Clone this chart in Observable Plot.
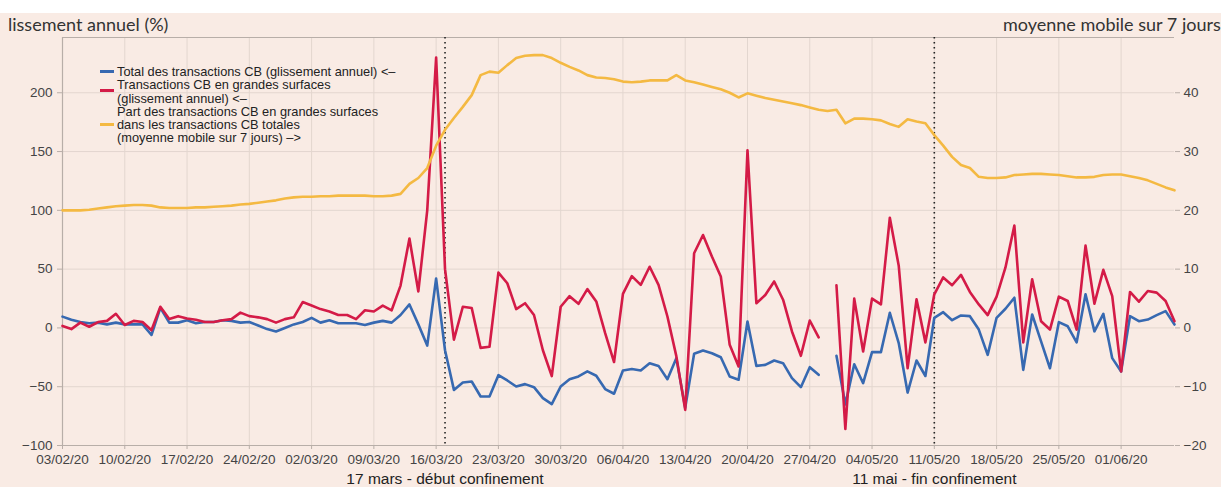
<!DOCTYPE html>
<html>
<head>
<meta charset="utf-8">
<script src="https://cdn.jsdelivr.net/npm/d3@7"></script>
<script src="https://cdn.jsdelivr.net/npm/@observablehq/plot@0.6"></script>
<style>
  html, body { margin: 0; padding: 0; background: #ffffff; }
  #wrap { position: relative; width: 1221px; height: 474px; margin-top: 13px; background: #f9ebe4; overflow: hidden; }
  #chart { position: absolute; left: 0; top: 0; }
  .hdr { position: absolute; font-family: Lato, "Noto Sans", sans-serif; font-size: 18px; color: #333; white-space: nowrap; line-height: 20px; }
  #legend { position: absolute; left: 117px; top: 52px; font-family: "Liberation Sans", Arial, sans-serif; font-size: 12.8px; line-height: 13.3px; color: #222; white-space: nowrap; }
  .sw { position: absolute; left: 100px; width: 14px; height: 3px; }
</style>
</head>
<body>
<div id="wrap">
  <div class="hdr" style="left:8px; top:1px;">lissement annuel (%)</div>
  <div class="hdr" style="left:1003px; top:1px;">moyenne mobile sur 7 jours</div>
  <div id="chart"></div>
  <div class="sw" style="top:57px; background:#3769b1;"></div>
  <div class="sw" style="top:76px; background:#d41b47;"></div>
  <div class="sw" style="top:110px; background:#f4b942;"></div>
  <div id="legend">
    <div>Total des transactions CB (glissement annuel) &lt;–</div>
    <div>Transactions CB en grandes surfaces</div>
    <div>(glissement annuel) &lt;–</div>
    <div>Part des transactions CB en grandes surfaces</div>
    <div>dans les transactions CB totales</div>
    <div>(moyenne mobile sur 7 jours) –&gt;</div>
  </div>
</div>
<script>
// ---- data (daily, 03/02/2020 -> 07/06/2020) ----
const firstDay = "2020-02-03";
const lastDay = "2020-06-07";

// Total des transactions CB, glissement annuel (%)
const totalCB = [
  9.6, 7, 5, 4, 4.5, 3, 4.5, 3, 3, 3,
  -6, 17, 4.5, 4.5, 6.5, 4, 5, 5, 6.5, 6,
  4.5, 5, 2, -1, -3, 0, 3, 5, 8.5, 4.5,
  6.5, 4, 4, 4, 2.5, 4.5, 6, 4.5, 11, 20,
  3, -15, 42, -19, -52.7, -46.4, -45.6, -58.3, -58.3, -40.2,
  -44.7, -49.8, -47.8, -50.4, -59.7, -64.8, -49.8, -43.6, -41.3, -37,
  -40.7, -52, -56, -36.2, -35, -36.2, -30, -32.3, -43.6, -25.7,
  -68, -22, -19.2, -21.5, -24.9, -41.3, -44.1, 5.4, -32.3, -31.4,
  -27.7, -30, -42.7, -50.4, -33.4, -39.9, null, -23.7, -65, -30.9,
  -47, -20.6, -20.6, 12.9, -12.9, -55, -27.7, -40.9, 8.6, 13.4,
  6.6, 10.6, 10, -1.4, -22.9, 8.6, 16.3, 25.7, -35.7, 11.4,
  -11.4, -34.3, 4.9, 1.4, -12.3, 28.6, -2.9, 12, -25.7, -37,
  10, 5.7, 7.1, 10.9, 14.3, 2.9
];

// Transactions CB en grandes surfaces, glissement annuel (%)
const grandesSurfaces = [
  1.7, -1, 4.5, 1, 5, 6, 12, 2.5, 6, 5,
  -2, 18, 7.5, 10, 8, 7, 5, 5, 6.5, 7.5,
  13, 10, 9, 7.5, 4.5, 7.5, 9, 22, 19, 16,
  14, 11, 11, 7.5, 15, 14, 19, 15, 36, 76,
  31, 100, 230, 50, -10, 18, 17, -17, -16, 47,
  38, 16, 21, 11, -19, -41, 18, 27, 20.5, 33,
  22.5, -4.5, -29, 29, 44, 36.6, 52, 36.6, 9.7, -24,
  -69.7, 63.5, 79, 60.7, 43.7, -14.4, -32.8, 151, 21, 28,
  39.5, 24, -3, -23.7, 6.3, -8, null, 36.3, -86, 24.9,
  -20, 24.9, 20, 93.7, 52.9, -34.3, 24.3, -12.3, 28.6, 42.9,
  36.3, 45.1, 30.6, 20, 10.9, 26.6, 51.4, 87.1, -12.3, 41.4,
  5.7, -1.4, 26.6, 22.9, -1.4, 70, 20.6, 49.4, 27.1, -37.1,
  30.6, 22.3, 31.4, 30, 22.9, 5.7
];

// Part des transactions CB en grandes surfaces (%, moyenne mobile 7 jours) - axe de droite
const partGS = [
  20, 20, 20, 20.1, 20.3, 20.5, 20.7, 20.8, 20.9, 20.9,
  20.8, 20.5, 20.4, 20.4, 20.4, 20.5, 20.5, 20.6, 20.7, 20.8,
  21, 21.1, 21.3, 21.5, 21.7, 22, 22.2, 22.3, 22.3, 22.4,
  22.4, 22.5, 22.5, 22.5, 22.5, 22.4, 22.4, 22.5, 22.8, 24.5,
  25.5, 27.2, 31, 33.7, 35.7, 37.6, 39.6, 43, 43.6, 43.4,
  44.7, 45.9, 46.3, 46.4, 46.4, 45.9, 45.1, 44.4, 43.8, 43,
  42.6, 42.5, 42.3, 41.9, 41.8, 41.9, 42.1, 42.1, 42.1, 43,
  42.1, 41.8, 41.4, 41, 40.6, 40, 39.2, 39.9, 39.5, 39.1,
  38.8, 38.5, 38.2, 37.9, 37.5, 37.1, 36.9, 37.1, 34.8, 35.6,
  35.6, 35.5, 35.3, 34.7, 34.2, 35.5, 35.1, 34.8, 32.8, 31,
  29.1, 27.7, 27.2, 25.7, 25.5, 25.5, 25.6, 26, 26.1, 26.2,
  26.2, 26.1, 26, 25.8, 25.6, 25.6, 25.7, 26, 26.1, 26.1,
  25.8, 25.5, 25.1, 24.5, 23.9, 23.4
];

const xTickLabels = ["03/02/20","10/02/20","17/02/20","24/02/20","02/03/20","09/03/20","16/03/20","23/03/20","30/03/20","06/04/20","13/04/20","20/04/20","27/04/20","04/05/20","11/05/20","18/05/20","25/05/20","01/06/20"];
const leftTicks = [-100, -50, 0, 50, 100, 150, 200];
const rightTicks = [-20, -10, 0, 10, 20, 30, 40];
const events = [
  {date: "2020-03-17", label: "17 mars - début confinement"},
  {date: "2020-05-11", label: "11 mai - fin confinement"}
];

// ---- build ----
const parseTick = d3.utcParse("%d/%m/%y");
const xTicks = xTickLabels.map(parseTick);
const start = new Date(firstDay);
const end = new Date(lastDay);
const days = d3.utcDay.range(start, d3.utcDay.offset(end, 1));
const ratio = 5; // left axis = 5 x right axis
const rows = days.map((d, i) => ({date: d, total: totalCB[i], gs: grandesSurfaces[i], part: partGS[i] * ratio}));
const ev = events.map(e => ({date: new Date(e.date), label: e.label}));
const yTop = 247;
const grid = "#e3d6cf";
const axisCol = "#b8aea8";
const fmtMinus = v => (v < 0 ? "−" + Math.abs(v) : String(v));

const chart = Plot.plot({
  width: 1221,
  height: 474,
  marginLeft: 62,
  marginRight: 47,
  marginTop: 24,
  marginBottom: 42,
  style: {background: "transparent", fontFamily: "'Liberation Sans', Arial, sans-serif", fontSize: "13.5px", color: "#444"},
  x: {type: "utc", domain: [start, end]},
  y: {domain: [-100, yTop]},
  marks: [
    Plot.ruleY(leftTicks.filter(t => t > -100), {stroke: grid, strokeWidth: 1}),
    Plot.ruleX(xTicks.slice(1), {stroke: grid, strokeWidth: 1}),
    Plot.ruleY([-100, yTop], {stroke: axisCol, strokeWidth: 1.2}),
    Plot.ruleX([start], {stroke: axisCol, strokeWidth: 1.2}),
    Plot.axisY({ticks: leftTicks, anchor: "left", tickSize: 5, tickPadding: 5, tickFormat: fmtMinus, label: null, stroke: axisCol, fill: "#444"}),
    Plot.axisY({ticks: rightTicks.map(t => t * ratio), anchor: "right", tickSize: 5, tickPadding: 4, tickFormat: v => fmtMinus(v / ratio), label: null, stroke: axisCol, fill: "#444"}),
    Plot.axisX({ticks: xTicks, anchor: "bottom", tickSize: 4, tickPadding: 5, tickFormat: d3.utcFormat("%d/%m/%y"), label: null, stroke: axisCol, fill: "#444"}),
    Plot.ruleX(ev, {x: "date", stroke: "#222", strokeWidth: 1.6, strokeDasharray: "1.6,3.4"}),
    Plot.line(rows, {x: "date", y: "total", stroke: "#3769b1", strokeWidth: 2.6}),
    Plot.line(rows, {x: "date", y: "gs", stroke: "#d41b47", strokeWidth: 2.6}),
    Plot.line(rows, {x: "date", y: "part", stroke: "#f4b942", strokeWidth: 2.6}),
    Plot.text(ev, {x: "date", text: "label", frameAnchor: "bottom", dy: 38, fontSize: 15.5, fill: "#222"})
  ]
});
document.getElementById("chart").appendChild(chart);
</script>
</body>
</html>
